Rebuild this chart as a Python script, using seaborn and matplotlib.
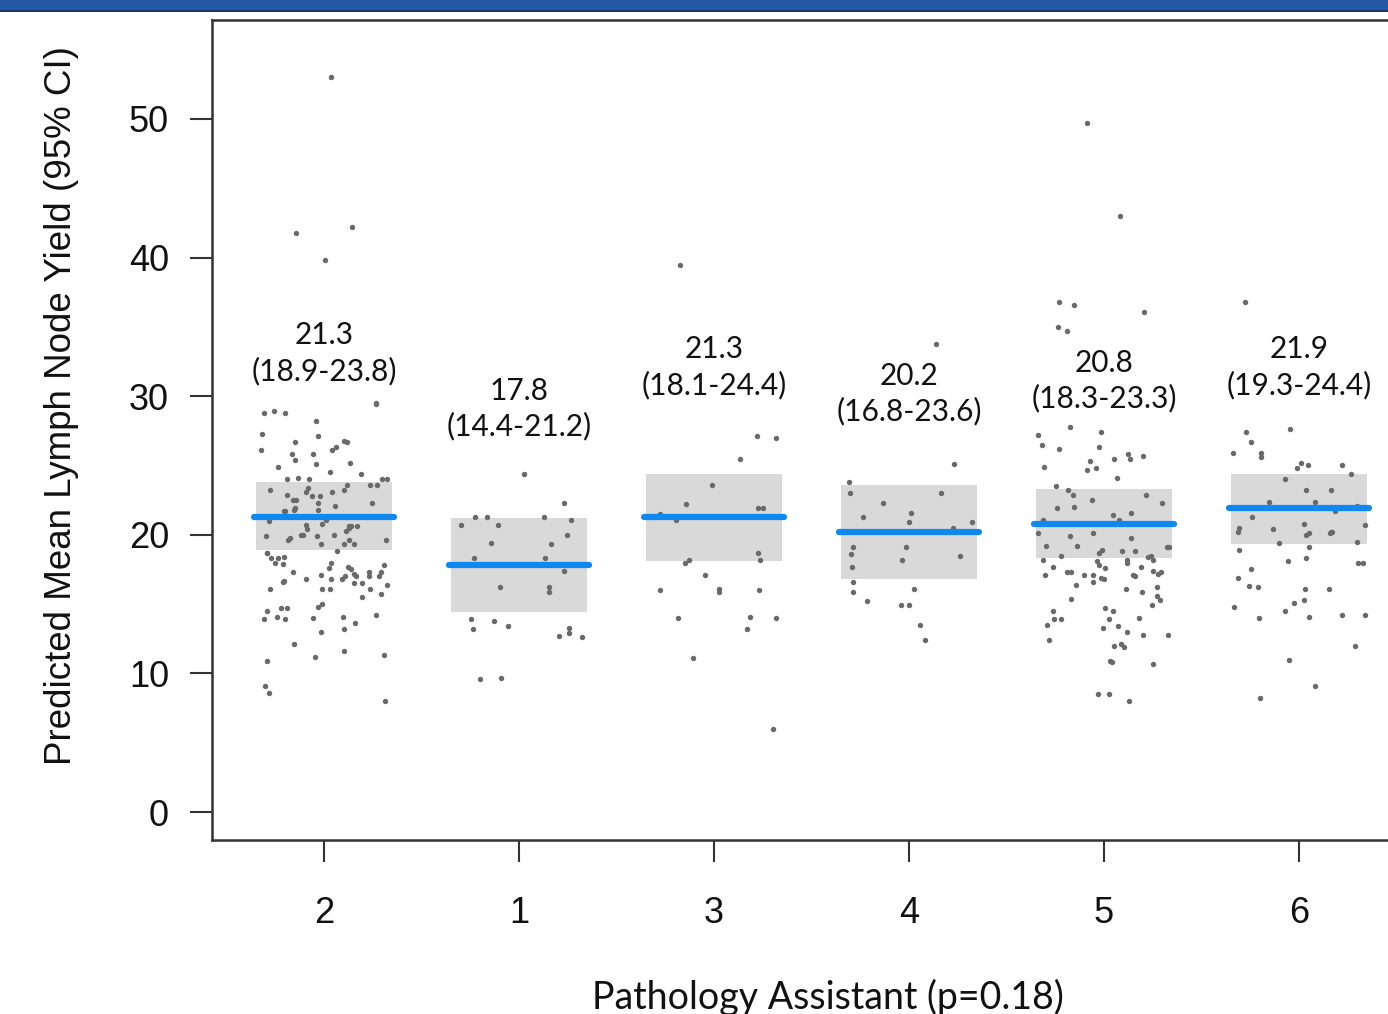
import numpy as np
import pandas as pd
import matplotlib
matplotlib.use('Agg')
import matplotlib.pyplot as plt
from matplotlib.patches import Rectangle
import seaborn as sns

# ===================== data =====================
assistants = ['2', '1', '3', '4', '5', '6']
means = [21.3, 17.8, 21.3, 20.2, 20.8, 21.9]
ci_low = [18.9, 14.4, 18.1, 16.8, 18.3, 19.3]
ci_high = [23.8, 21.2, 24.4, 23.6, 23.3, 24.4]

yield_2 = [53.0, 42.2, 41.8, 39.8,
           29.5, 29.4, 28.9, 28.8, 28.8, 28.2, 27.3, 27.1, 26.8, 26.7, 26.7, 26.3, 26.1, 26.1, 25.8, 25.8,
           25.4, 25.2, 25.1, 24.9, 24.5, 24.4, 24.1, 24.0, 24.0, 24.0, 24.0, 23.6, 23.6, 23.6, 23.4, 23.2,
           23.2, 23.1, 23.1, 22.9, 22.8, 22.8, 22.5, 22.5, 22.3, 22.3, 22.1, 21.9, 21.8, 21.8, 21.7, 21.7,
           21.1, 21.0, 20.8, 20.7, 20.6, 20.6, 20.6, 20.5, 20.4, 20.3, 20.0, 20.0, 20.0, 19.9, 19.9, 19.8,
           19.6, 19.6, 19.6, 19.3, 19.3, 19.3, 18.8, 18.7, 18.7, 18.4, 18.3, 18.3, 18.0, 18.0, 17.9, 17.8,
           17.7, 17.6, 17.5, 17.3, 17.3, 17.3, 17.2, 17.1, 17.0, 17.0, 17.0, 17.0, 16.8, 16.8, 16.8, 16.7,
           16.6, 16.5, 16.5, 16.4, 16.1, 16.1, 16.1, 16.1, 15.7, 15.5, 15.0, 14.8, 14.7, 14.7, 14.5, 14.2,
           14.1, 14.1, 14.0, 13.9, 13.9, 13.6, 13.2, 13.0, 12.1, 11.6, 11.3, 11.2, 10.9, 9.1, 8.6, 8.0]
yield_1 = [24.4, 22.3, 21.3, 21.3, 21.3, 21.1, 20.7, 20.7, 20.0, 19.4, 19.3, 18.3, 18.3, 17.4,
           16.2, 16.2, 15.9, 13.9, 13.8, 13.4, 13.3, 13.2, 12.9, 12.7, 12.6, 9.7, 9.6]
yield_3 = [39.5, 27.1, 27.0, 25.5, 23.6, 22.2, 21.9, 21.9, 21.5, 21.1, 18.7, 18.2, 18.2, 18.0,
           17.1, 16.1, 16.0, 16.0, 15.9, 14.1, 14.0, 14.0, 13.2, 11.1, 6.0]
yield_4 = [33.8, 25.1, 23.8, 23.0, 23.0, 22.3, 21.6, 21.3, 20.9, 20.9, 20.5, 19.1, 19.1, 18.6,
           18.5, 18.2, 17.7, 16.6, 16.1, 15.9, 15.2, 14.9, 14.9, 13.5, 12.4]
yield_5 = [49.7, 43.0, 36.8, 36.6, 36.1, 35.0, 34.7,
           27.8, 27.4, 27.2, 26.5, 26.3, 26.2, 25.8, 25.7, 25.5, 25.5, 25.3, 24.9, 24.8, 24.7, 24.1,
           23.5, 23.2, 22.9, 22.9, 22.5, 22.3, 22.0, 21.9, 21.6, 21.4, 21.1, 21.1, 20.1, 20.1, 19.9,
           19.8, 19.2, 19.2, 19.1, 19.1, 18.9, 18.8, 18.8, 18.7, 18.5, 18.5, 18.4, 18.2, 18.2, 18.2,
           18.1, 18.0, 17.8, 17.7, 17.7, 17.6, 17.4, 17.3, 17.3, 17.3, 17.2, 17.1, 17.1, 17.1, 17.1,
           17.0, 16.9, 16.8, 16.6, 16.4, 16.2, 16.1, 15.9, 15.6, 15.4, 15.3, 14.9, 14.7, 14.5, 14.5,
           14.0, 13.9, 13.9, 13.9, 13.5, 13.4, 13.3, 13.0, 12.8, 12.8, 12.4, 12.1, 12.0, 11.9, 10.9,
           10.8, 10.7, 8.5, 8.5, 8.0]
yield_6 = [36.8, 27.6, 27.4, 26.7, 25.9, 25.9, 25.6, 25.2, 25.0, 25.0, 24.8, 24.4, 24.0, 23.2,
           23.2, 22.4, 22.4, 22.1, 21.7, 21.3, 20.8, 20.7, 20.5, 20.4, 20.2, 20.2, 20.2, 20.1, 20.1,
           20.0, 19.5, 19.4, 19.1, 18.9, 18.3, 18.1, 18.0, 18.0, 17.5, 16.9, 16.3, 16.2, 16.1, 16.1,
           15.3, 15.1, 14.8, 14.5, 14.2, 14.2, 14.1, 14.0, 12.0, 11.0, 9.1, 8.2]

groups = [yield_2, yield_1, yield_3, yield_4, yield_5, yield_6]
df = pd.DataFrame({
    'assistant': np.concatenate([[a] * len(g) for a, g in zip(assistants, groups)]),
    'lymph': np.concatenate(groups),
})

# label heights (layout, data units)
label_y = [33.1, 29.1, 32.1, 30.2, 31.1, 32.1]

# ===================== plot =====================
sns.set_style('white')
plt.rcParams['font.family'] = ['Liberation Sans', 'DejaVu Sans']

fig = plt.figure(figsize=(13.88, 10.14), dpi=100)
W, H = 1388, 1014
ax = fig.add_axes([212 / W, 174 / H, 1199 / W, 820 / H])

# blue header band
fig.add_artist(Rectangle((0, 1 - 10 / H), 1, 10 / H, transform=fig.transFigure,
                         facecolor='#2358A4', edgecolor='none'))
fig.add_artist(Rectangle((0, 1 - 12 / H), 1, 2 / H, transform=fig.transFigure,
                         facecolor='#1E3466', edgecolor='none'))

pos = np.arange(len(assistants))
ax.bar(pos, np.array(ci_high) - np.array(ci_low), bottom=ci_low, width=0.7,
       color='#d9d9d9', edgecolor='none', zorder=1)

np.random.seed(3)
sns.stripplot(data=df, x='assistant', y='lymph', order=assistants, jitter=0.34,
              color='#6a6a6a', size=3.9, linewidth=0, ax=ax, zorder=2)

ax.hlines(means, pos - 0.36, pos + 0.36, color='#0F88F2', linewidth=4.5,
          capstyle='round', zorder=3)

for i in range(len(assistants)):
    ax.text(pos[i], label_y[i], f'{means[i]:.1f}\n({ci_low[i]:.1f}-{ci_high[i]:.1f})',
            ha='center', va='center', fontsize=21.5, family='Lato', linespacing=1.3,
            color='#111111', zorder=4)

ax.set_xlim(-0.574, 5.574)
ax.set_ylim(-2.02, 57.14)
ax.set_yticks([0, 10, 20, 30, 40, 50])
ax.set_xlabel('')
ax.set_ylabel('')
ax.tick_params(axis='both', direction='out', length=16, width=1.5, color='#333333',
               labelsize=26, labelcolor='#111111', bottom=True, left=True)
ax.tick_params(axis='y', pad=15)
ax.tick_params(axis='x', pad=24)
for s in ax.spines.values():
    s.set_visible(True)
    s.set_color('#333333')
    s.set_linewidth(1.8)

fig.text(62 / W, 1 - 406 / H, 'Predicted Mean Lymph Node Yield (95% CI)', rotation=90,
         ha='center', va='center', fontsize=26.5, color='#111111')
fig.text(828 / W, 1 - 997 / H, 'Pathology Assistant (p=0.18)', ha='center', va='center',
         fontsize=27, family='Lato', color='#111111')

fig.savefig('out.png', dpi=100)
plt.close()
